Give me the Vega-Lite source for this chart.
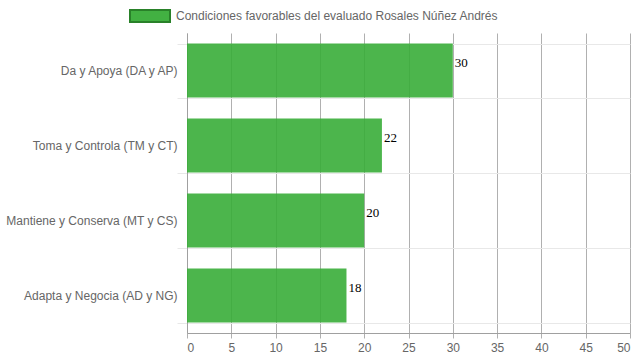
{
  "$schema": "https://vega.github.io/schema/vega-lite/v6.json",
  "width": 443,
  "height": 300,
  "autosize": {"type": "none"},
  "padding": {"left": 187, "top": 33, "right": 9, "bottom": 27},
  "background": "white",
  "config": {"view": {"stroke": null}, "font": "Liberation Sans"},
  "data": {
    "values": [
      {"categoria": "Da y Apoya (DA y AP)", "valor": 30, "serie": "Condiciones favorables del evaluado Rosales Núñez Andrés"},
      {"categoria": "Toma y Controla (TM y CT)", "valor": 22, "serie": "Condiciones favorables del evaluado Rosales Núñez Andrés"},
      {"categoria": "Mantiene y Conserva (MT y CS)", "valor": 20, "serie": "Condiciones favorables del evaluado Rosales Núñez Andrés"},
      {"categoria": "Adapta y Negocia (AD y NG)", "valor": 18, "serie": "Condiciones favorables del evaluado Rosales Núñez Andrés"}
    ]
  },
  "encoding": {
    "y": {
      "field": "categoria", "type": "nominal", "sort": null,
      "scale": {"paddingInner": 0.28, "paddingOuter": 0.14},
      "axis": {
        "title": null, "tickBand": "extent", "grid": true, "gridColor": "#e8e8e8",
        "domainColor": "#a0a0a0", "tickColor": "#e8e8e8", "tickSize": 10,
        "labelPadding": 0, "labelColor": "#666666", "labelFontSize": 12, "labelLimit": 300
      }
    },
    "x": {
      "field": "valor", "type": "quantitative",
      "scale": {"domain": [0, 50], "nice": false},
      "axis": {
        "title": null, "values": [0, 5, 10, 15, 20, 25, 30, 35, 40, 45, 50],
        "grid": true, "gridColor": "#b0b0b0", "tickColor": "#b0b0b0", "tickSize": 5,
        "domainColor": "#a0a0a0", "labelColor": "#666666", "labelFontSize": 12, "labelPadding": 4
      }
    }
  },
  "layer": [
    {
      "mark": {"type": "bar", "opacity": 0.9},
      "encoding": {
        "color": {
          "field": "serie", "type": "nominal",
          "scale": {"range": ["#38AD38"]},
          "legend": {
            "title": null, "orient": "none", "legendX": -58, "legendY": -38,
            "padding": 0, "symbolType": "M-1,-0.3H1V0.3H-1Z", "symbolSize": 1600,
            "symbolStrokeColor": "#1E7B1E", "symbolStrokeWidth": 2, "symbolOpacity": 0.95,
            "labelOffset": 5, "labelFontSize": 12, "labelColor": "#666666", "labelLimit": 500
          }
        }
      }
    },
    {
      "mark": {"type": "text", "align": "left", "baseline": "alphabetic", "dx": 2, "dy": -4,
               "font": "Liberation Serif", "fontSize": 13, "color": "black"},
      "encoding": {"text": {"field": "valor", "type": "quantitative"}}
    }
  ]
}
